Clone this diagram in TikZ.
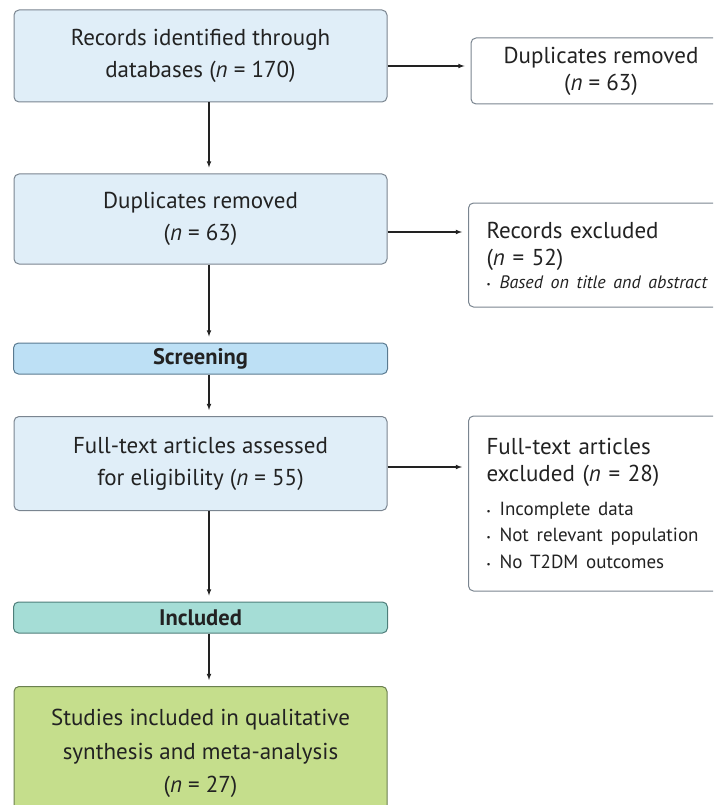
\documentclass[tikz,border=0pt]{standalone}
\usepackage{fontspec}
\setmainfont{PT Sans}
\usetikzlibrary{positioning}
\definecolor{boxblue}{HTML}{E0EEF8}
\definecolor{boxedge}{HTML}{7A8590}
\definecolor{barblue}{HTML}{BDE0F5}
\definecolor{baredge}{HTML}{5A7A90}
\definecolor{barteal}{HTML}{A5DDD6}
\definecolor{tealedge}{HTML}{4E7E7A}
\definecolor{boxgreen}{HTML}{C5DE8C}
\definecolor{greenedge}{HTML}{6B8050}
\definecolor{inkgray}{HTML}{222222}
\tikzset{>=latex}
\newcommand{\itm}[1]{\makebox[13pt][l]{\raisebox{1pt}{\fontsize{9}{9}\selectfont\textbullet}}#1}

\begin{document}
\begin{tikzpicture}[x=1pt, y=-1pt,
    mainbox/.style={draw=boxedge, fill=boxblue, rounded corners=5pt, line width=1pt,
      minimum width=373pt, align=center, text=inkgray,
      font=\fontsize{23}{32}\selectfont},
    sidebox/.style={draw=boxedge, fill=white, rounded corners=5pt, line width=1pt,
      text=inkgray, font=\fontsize{23}{27}\selectfont},
    stagebar/.style={rounded corners=5pt, line width=1pt, minimum width=374pt,
      minimum height=31pt, text=inkgray, font=\fontsize{22.5}{22.5}\selectfont\bfseries},
    flow/.style={->, draw=inkgray, line width=1.1pt, shorten >=6pt}]
  \clip (0,0) rectangle (713,805);

  % left column
  \node[mainbox, minimum height=92pt] (rec) at (200.5,56)
    {Records identified through\\databases (\textit{n} = 170)};
  \node[mainbox, minimum height=90pt] (dup) at (200.5,219)
    {Duplicates removed\\(\textit{n} = 63)};
  \node[stagebar, draw=baredge, fill=barblue] (scr) at (200.5,358.5) {Screening};
  \node[mainbox, minimum height=94pt] (full) at (200.5,463.5)
    {Full-text articles assessed\\for eligibility (\textit{n} = 55)};
  \node[stagebar, draw=tealedge, fill=barteal] (inc) at (200.5,617.5) {Included};
  \node[mainbox, draw=greenedge, fill=boxgreen, minimum height=134pt, anchor=north,
    font=\fontsize{23}{33.5}\selectfont] (final) at (200.5,686)
    {Studies included in qualitative\\synthesis and meta-analysis\\(\textit{n} = 27)};

  % right column
  \node[sidebox, minimum width=260pt, minimum height=66pt, align=center] (dupR) at (601,71)
    {Duplicates removed\\(\textit{n} = 63)};
  \node[sidebox, minimum height=104pt, text width=250pt, inner xsep=18pt, align=left,
    anchor=west] (excA) at (468,255)
    {Records excluded\\(\textit{n} = 52)\\[-4pt]
     {\fontsize{18}{18}\selectfont\itm{\textit{Based on title and abstract}}}};
  \node[sidebox, minimum height=175pt, text width=250pt, inner xsep=18pt, align=left,
    anchor=west] (ftExc) at (468,503.5)
    {Full-text articles\\excluded (\textit{n} = 28)\\[7pt]
     {\fontsize{19}{26.5}\selectfont\itm{Incomplete data}\\\itm{Not relevant population}\\\itm{No T2DM outcomes}}};

  % connectors
  \coordinate (spine) at (209,0);
  \coordinate (tapA) at (0,66);
  \coordinate (tapB) at (0,232);
  \coordinate (tapC) at (0,467);
  \draw[flow] (rec.south -| spine) -- (dup.north -| spine);
  \draw[flow] (dup.south -| spine) -- (scr.north -| spine);
  \draw[flow] (scr.south -| spine) -- (full.north -| spine);
  \draw[flow] (full.south -| spine) -- (inc.north -| spine);
  \draw[flow] (inc.south -| spine) -- (final.north -| spine);
  \draw[flow] (rec.east |- tapA) -- (dupR.west |- tapA);
  \draw[flow] (dup.east |- tapB) -- (excA.west |- tapB);
  \draw[flow] (full.east |- tapC) -- (ftExc.west |- tapC);
\end{tikzpicture}
\end{document}
